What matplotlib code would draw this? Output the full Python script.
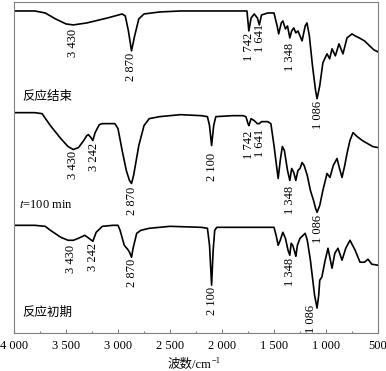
import numpy as np
import matplotlib
matplotlib.use("Agg")
import matplotlib.pyplot as plt
from matplotlib.ticker import MultipleLocator

plt.rcParams['font.family'] = ['Liberation Serif', 'Noto Sans CJK SC']
plt.rcParams['mathtext.fontset'] = 'stix'

# 透过率（任意单位，三条曲线已错开）
wn_end = [4000, 3800, 3700, 3600, 3500, 3430, 3300, 3100, 2960, 2930, 2900, 2870, 2840, 2800,
          2750, 2600, 2400, 2000, 1760, 1742, 1720, 1690, 1660, 1641, 1620, 1560, 1500, 1470,
          1455, 1430, 1415, 1390, 1370, 1348, 1330, 1310, 1290, 1270, 1250, 1230, 1200, 1183,
          1160, 1130, 1100, 1086, 1060, 1030, 990, 965, 942, 910, 875, 837, 798, 750, 720, 680,
          630, 580, 540, 500]
t_end = [323, 323, 321, 315, 310, 309, 311, 316, 320, 318, 303, 283, 298, 315,
         320, 322, 323, 323, 323, 303, 316, 320, 316, 309, 319, 321, 321, 308,
         300, 311, 313, 305, 308, 296, 303, 306, 301, 303, 298, 293, 308, 311,
         298, 268, 243, 235, 248, 271, 280, 275, 285, 278, 290, 280, 296, 300, 298, 296,
         293, 288, 284, 282]

wn_mid = [4000, 3800, 3730, 3650, 3550, 3480, 3430, 3380, 3330, 3300, 3285, 3260, 3242, 3220,
          3180, 3150, 3030, 3000, 2960, 2920, 2890, 2870, 2850, 2800, 2750, 2700, 2600, 2400,
          2200, 2140, 2120, 2100, 2080, 2060, 1900, 1800, 1770, 1750, 1742, 1720, 1690, 1660,
          1641, 1620, 1560, 1530, 1500, 1470, 1460, 1440, 1420, 1400, 1370, 1348, 1330, 1310,
          1290, 1270, 1250, 1230, 1210, 1180, 1150, 1120, 1100, 1086, 1060, 1030, 990, 962,
          930, 894, 870, 846, 820, 798, 770, 740, 700, 650, 600, 550, 500]
t_mid = [221, 221, 220, 208, 195, 187, 184, 186, 193, 198, 199, 196, 193, 201,
         209, 210, 210, 205, 183, 163, 153, 150, 158, 188, 208, 215, 217, 219,
         218, 217, 208, 188, 208, 217, 218, 218, 217, 210, 208, 215, 213, 210,
         210, 212, 212, 210, 188, 163, 155, 173, 187, 183, 163, 153, 165, 161,
         153, 163, 165, 171, 168, 158, 143, 133, 125, 121, 128, 143, 160, 156,
         168, 175, 165, 156, 168, 180, 193, 201, 197, 193, 190, 187, 186]

wn_start = [4000, 3800, 3700, 3650, 3550, 3480, 3430, 3380, 3320, 3280, 3242, 3210, 3150, 3050,
            3000, 2980, 2940, 2900, 2885, 2870, 2855, 2820, 2780, 2700, 2500, 2200, 2140, 2120,
            2100, 2085, 2070, 2050, 1700, 1500, 1480, 1460, 1440, 1415, 1390, 1365, 1348, 1335,
            1320, 1300, 1290, 1275, 1250, 1200, 1180, 1150, 1110, 1086, 1070, 1060, 1040, 1010,
            981, 942, 915, 885, 846, 810, 769, 720, 673, 630, 596, 560, 500]
t_start = [108, 108, 107, 103, 96, 93, 93, 95, 98, 95, 92, 101, 107, 108,
           108, 103, 88, 83, 80, 76, 85, 100, 103, 105, 107, 106, 105, 88,
           48, 83, 103, 106, 106, 106, 98, 88, 93, 101, 95, 83, 78, 90,
           88, 81, 77, 88, 95, 100, 93, 73, 38, 25, 38, 53, 56, 72,
           85, 65, 80, 85, 73, 85, 93, 83, 71, 71, 74, 69, 68]

# 峰位标注 (文字, 横坐标, 文字顶端纵坐标)
labels_end = [("3 430", 3430, 305), ("2 870", 2875, 281), ("1 742", 1740, 301),
              ("1 641", 1635, 310), ("1 348", 1346, 291), ("1 086", 1077, 233)]
labels_mid = [("3 430", 3430, 183), ("3 242", 3231, 191), ("2 870", 2870, 147),
              ("2 100", 2100, 181), ("1 742", 1740, 203), ("1 641", 1635, 205),
              ("1 348", 1346, 148), ("1 086", 1077, 118)]
labels_start = [("3 430", 3452, 88), ("3 242", 3240, 90), ("2 870", 2865, 74),
                ("2 100", 2100, 46), ("1 348", 1346, 75), ("1 086", 1144, 28)]

xticks = [4000, 3500, 3000, 2500, 2000, 1500, 1000, 500]
xticklabels = ["4 000", "3 500", "3 000", "2 500", "2 000", "1 500", "1 000", "500"]

fig = plt.figure(figsize=(3.86, 3.71), dpi=100)
ax = fig.add_axes([14 / 386, 1 - 333 / 371, 364 / 386, 331 / 371])

for wn, t in [(wn_end, t_end), (wn_mid, t_mid), (wn_start, t_start)]:
    ax.plot(wn, t, color="black", lw=1.2)

for labs in [labels_end, labels_mid, labels_start]:
    for txt, x, y in labs:
        ax.text(x, y, txt, rotation=90, ha="center", va="top", fontsize=9)

ax.text(3920, 237, "反应结束", fontsize=9, va="center")
ax.text(3950, 128, "$t$=100 min", fontsize=9, va="center")
ax.text(3920, 20, "反应初期", fontsize=9, va="center")

ax.set_xlim(4000, 500)
ax.set_ylim(0, 332)
ax.set_xticks(xticks)
ax.set_xticklabels(xticklabels, fontsize=9)
ax.xaxis.set_minor_locator(MultipleLocator(250))
ax.tick_params(axis="x", which="major", direction="in", length=3, width=0.8,
               color="#808080", pad=5)
ax.tick_params(axis="x", which="minor", direction="in", length=1.5, width=0.8,
               color="#808080")
ax.set_yticks([])
for s in ax.spines.values():
    s.set_color("#808080")
    s.set_linewidth(0.8)

# 横轴标题：中文部分与上标分开写
xl = fig.text(0.49, 1 - 365 / 371, "波数/cm", fontsize=9, ha="center", va="center")
ax.annotate("\u22121", xy=(1, 0.8), xycoords=xl, xytext=(0.5, 0),
            textcoords="offset points", fontsize=6, ha="left", va="center",
            annotation_clip=False)

plt.savefig("out.png", dpi=100)
